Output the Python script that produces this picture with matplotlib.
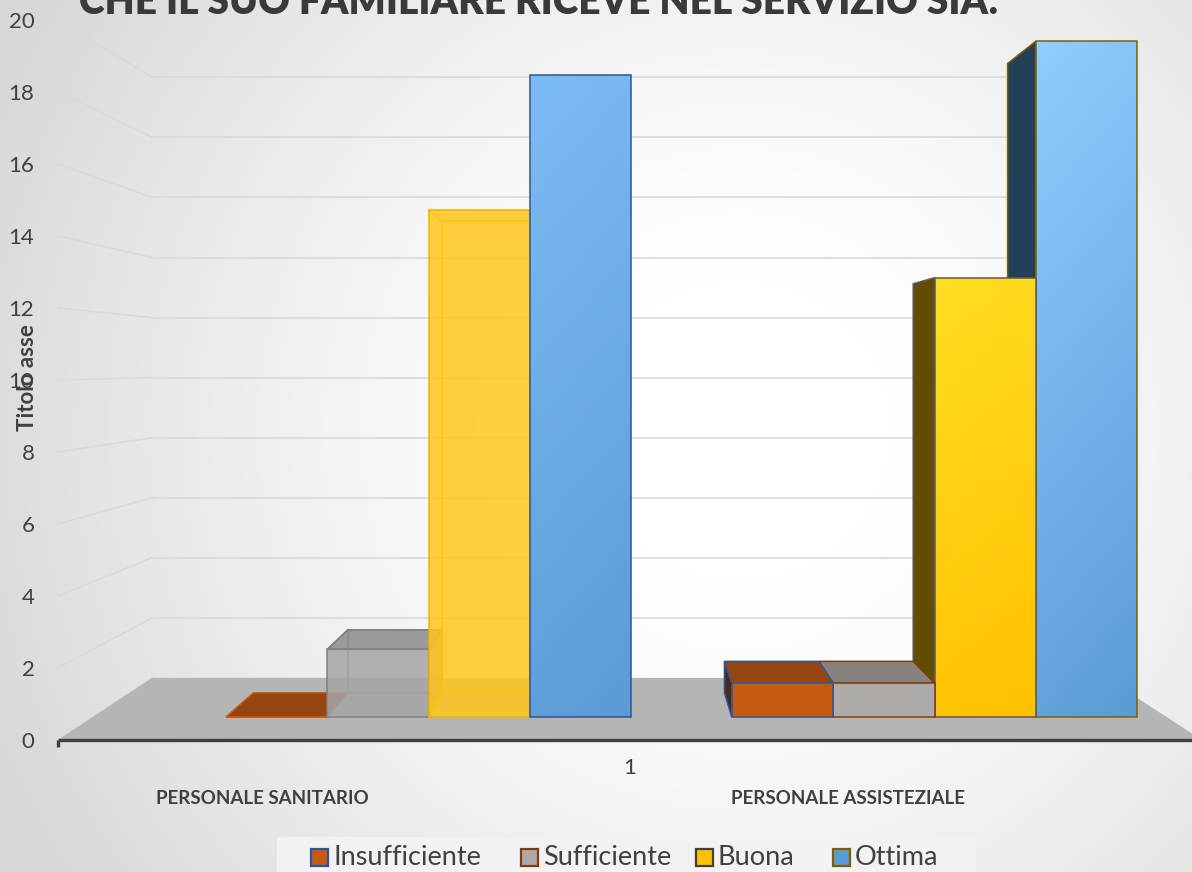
import numpy as np
import matplotlib
matplotlib.use('Agg')
import matplotlib.pyplot as plt
from matplotlib.patches import Polygon, Rectangle
from matplotlib.colors import LinearSegmentedColormap

plt.rcParams['font.family'] = ['Lato', 'DejaVu Sans']

# --- data -------------------------------------------------------------
TITLE = 'CHE IL SUO FAMILIARE RICEVE NEL SERVIZIO SIA:'
categories = ['PERSONALE SANITARIO', 'PERSONALE ASSISTEZIALE']
series = ['Insufficiente', 'Sufficiente', 'Buona', 'Ottima']
insufficiente = [0, 1]
sufficiente = [2, 1]
buona = [15, 13]
ottima = [19, 20]
y_ticks = list(range(0, 21, 2))
y_label = 'Titolo asse'
x_tick = '1'

# --- canvas / pseudo-3d geometry ---------------------------------------
W, H = 1192, 872
PX = 36.0            # pixels per value unit on the front plane
X0, Y0 = 58, 740     # pixel position of (0, 0)

VPX, VPY = (625 - X0) / PX, (Y0 - 365.6) / PX   # vanishing point
S_FRONT, S_BACK, S_WALL = 0.9386, 0.874, 0.834   # depth scale of planes
FLOOR_R = 31.78
BAR_W = 3.0
GROUP_LEFT = [3.94, 18.91]

TXT = '#404040'


def px(x, y):
    return (x - X0) / PX, (Y0 - y) / PX


def proj(x, y, s):
    return VPX + (x - VPX) * s, VPY + (y - VPY) * s


STYLES = [
    [dict(front='#C55A11', top='#974510', side='#6B300A', edge='#C55A11'),
     dict(front='#A5A5A5', top='#8B8B8B', side='#9A9A9A', edge='#7F7F7F', alpha=0.85, ghost=True),
     dict(front='#FFC61A', top='#E6AC00', side='#E0A800', edge='#EDB500', alpha=0.85, ghost=True),
     dict(grad=('#7DBCF3', '#5B9BD5'), top='#4F86B8', side='#2E4F6E', edge='#2F5597')],
    [dict(front='#C55A11', top='#974510', side='#4A2A14', edge='#2F5597'),
     dict(front='#AEAAAA', top='#87827F', side='#5E5A58', edge='#843C0C'),
     dict(grad=('#FFDE21', '#FFC000'), top='#D9A300', side='#624C00', edge='#595959'),
     dict(grad=('#90CCFF', '#5B9BD5'), top='#4F86B8', side='#243F58', edge='#7F6000')],
]
LEGEND_FACE = ['#C55A11', '#AEAAAA', '#FFC000', '#5B9BD5']
LEGEND_EDGE = ['#2F5597', '#843C0C', '#404040', '#7F6000']

fig = plt.figure(figsize=(W / 100, H / 100), dpi=100)
ax = fig.add_axes([0, 0, 1, 1])
xlim = (-X0 / PX, (W - X0) / PX)
ylim = (-(H - Y0) / PX, Y0 / PX)

# radial background
gx, gy = np.meshgrid(np.arange(W), np.arange(H))
r = np.hypot(gx - 740, gy - 430)
t = np.clip((r - 150) / 650, 0, 1)
bg = 1 - 0.15 * t ** 1.3
ax.imshow(np.dstack([bg, bg, bg]), extent=(*xlim, *ylim), origin='upper',
          aspect='auto', zorder=0)

# walls
for v in y_ticks:
    fx, fy = proj(0, v, 1)
    bx, by = proj(0, v, S_WALL)
    ex, _ = proj(FLOOR_R, v, S_WALL)
    ax.plot([fx, bx], [fy, by], color='#D9D9D9', lw=1.2, zorder=1)
    if v > 0:
        ax.plot([bx, ex], [by, by], color='#D9D9D9', lw=1.2, zorder=1)

# floor
floor = [proj(0, 0, 1), proj(FLOOR_R, 0, 1), proj(FLOOR_R, 0, S_WALL), proj(0, 0, S_WALL)]
ax.add_patch(Polygon(floor, closed=True, facecolor='#B5B5B5', edgecolor='none', zorder=2))
ax.plot([0, xlim[1]], [0, 0], color='#404040', lw=2.4, solid_capstyle='butt', zorder=3)
ax.plot([0, 0], [0, -0.2], color='#404040', lw=2.4, solid_capstyle='butt', zorder=3)


def face(pts, color, z, alpha=1.0, edge=None):
    ax.add_patch(Polygon(pts, closed=True, facecolor=color, alpha=alpha,
                         edgecolor='none', zorder=z))
    if edge:
        ax.add_patch(Polygon(pts, closed=True, facecolor='none', edgecolor=edge,
                             lw=1.1, zorder=z + 0.01, joinstyle='miter'))


def grad_face(pts, c_top, c_bot, z, edge):
    clip = Polygon(pts, closed=True, facecolor='none', edgecolor='none', zorder=z)
    ax.add_patch(clip)
    xs, ys = zip(*pts)
    u, w = np.meshgrid(np.linspace(0, 1, 64), np.linspace(0, 1, 256))
    g = np.clip(0.85 * w + 0.15 * (1 - u), 0, 1)
    cmap = LinearSegmentedColormap.from_list('bar', [c_bot, c_top])
    im = ax.imshow(g, extent=(min(xs), max(xs), min(ys), max(ys)), origin='lower',
                   cmap=cmap, aspect='auto', zorder=z, interpolation='bilinear')
    im.set_clip_path(clip)
    ax.add_patch(Polygon(pts, closed=True, facecolor='none', edgecolor=edge,
                         lw=1.1, zorder=z + 0.01))


def draw_box(x0, x1, h, st, z):
    fl0, fr0 = proj(x0, 0, S_FRONT), proj(x1, 0, S_FRONT)
    fl1, fr1 = proj(x0, h, S_FRONT), proj(x1, h, S_FRONT)
    bl0, br0 = proj(x0, 0, S_BACK), proj(x1, 0, S_BACK)
    bl1, br1 = proj(x0, h, S_BACK), proj(x1, h, S_BACK)
    a = st.get('alpha', 1.0)
    if st.get('ghost'):
        for p, q in [(bl0, br0), (bl0, bl1), (bl1, br1), (br0, br1),
                     (fl0, bl0), (fr0, br0), (fl1, bl1), (fr1, br1)]:
            ax.plot([p[0], q[0]], [p[1], q[1]], color=st['edge'], lw=1.1, zorder=z)
    if x0 > VPX:
        face([fl0, fl1, bl1, bl0], st['side'], z + 0.1, a, st['edge'])
    if x1 < VPX:
        face([fr0, fr1, br1, br0], st['side'], z + 0.1, a, st['edge'])
    if h < VPY:
        face([fl1, fr1, br1, bl1], st['top'], z + 0.2, a, st['edge'])
    if 'grad' in st:
        grad_face([fl0, fr0, fr1, fl1], *st['grad'], z + 0.3, st['edge'])
    else:
        face([fl0, fr0, fr1, fl1], st['front'], z + 0.3, a, st['edge'])


values = [insufficiente, sufficiente, buona, ottima]
boxes = []
for g, left in enumerate(GROUP_LEFT):
    for i, vals in enumerate(values):
        x0 = left + i * BAR_W
        boxes.append((g, i, x0, x0 + BAR_W, vals[g]))
# paint bars far from the vanishing point first
boxes.sort(key=lambda b: -abs((b[2] + b[3]) / 2 - VPX))
for n, (g, i, x0, x1, h) in enumerate(boxes):
    draw_box(x0, x1, h, STYLES[g][i], 5 + n)

# axis text
ax.set_yticks(y_ticks)
ax.set_xticks([])
for sp in ax.spines.values():
    sp.set_visible(False)
ax.spines['left'].set_position(('data', 0))
ax.tick_params(axis='y', length=0, pad=17, labelsize=16, labelcolor=TXT)

ax.text(*px(27, 378), y_label, rotation=90, ha='center', va='center',
        fontsize=16, fontweight='bold', color=TXT, zorder=30)
ax.text(*px(630, 768), x_tick, ha='center', va='center', fontsize=16, color=TXT, zorder=30)
for name, cx in zip(categories, [262, 848]):
    ax.text(*px(cx, 798), name, ha='center', va='center', fontsize=13.5,
            fontweight='bold', color=TXT, zorder=30)

ax.text(*px(539, 14), TITLE, ha='center', va='baseline', fontsize=28,
        fontweight='heavy', color='#3A3A3A', zorder=30)

# legend
lx, ly = px(277, 880)
ax.add_patch(Rectangle((lx, ly), (976 - 277) / PX, (880 - 837) / PX,
                       facecolor='#F2F2F2', edgecolor='none', zorder=20))
for name, fc, ec, sx in zip(series, LEGEND_FACE, LEGEND_EDGE, [311, 521, 696, 833]):
    qx, qy = px(sx, 866)
    ax.add_patch(Rectangle((qx, qy), 17 / PX, 17 / PX, facecolor=fc, edgecolor=ec,
                           lw=1.6, zorder=21))
    ax.text(*px(sx + 22, 857), name, ha='left', va='center', fontsize=19.5,
            color=TXT, zorder=21)

ax.set_xlim(*xlim)
ax.set_ylim(*ylim)
fig.savefig('out.png', dpi=100)
